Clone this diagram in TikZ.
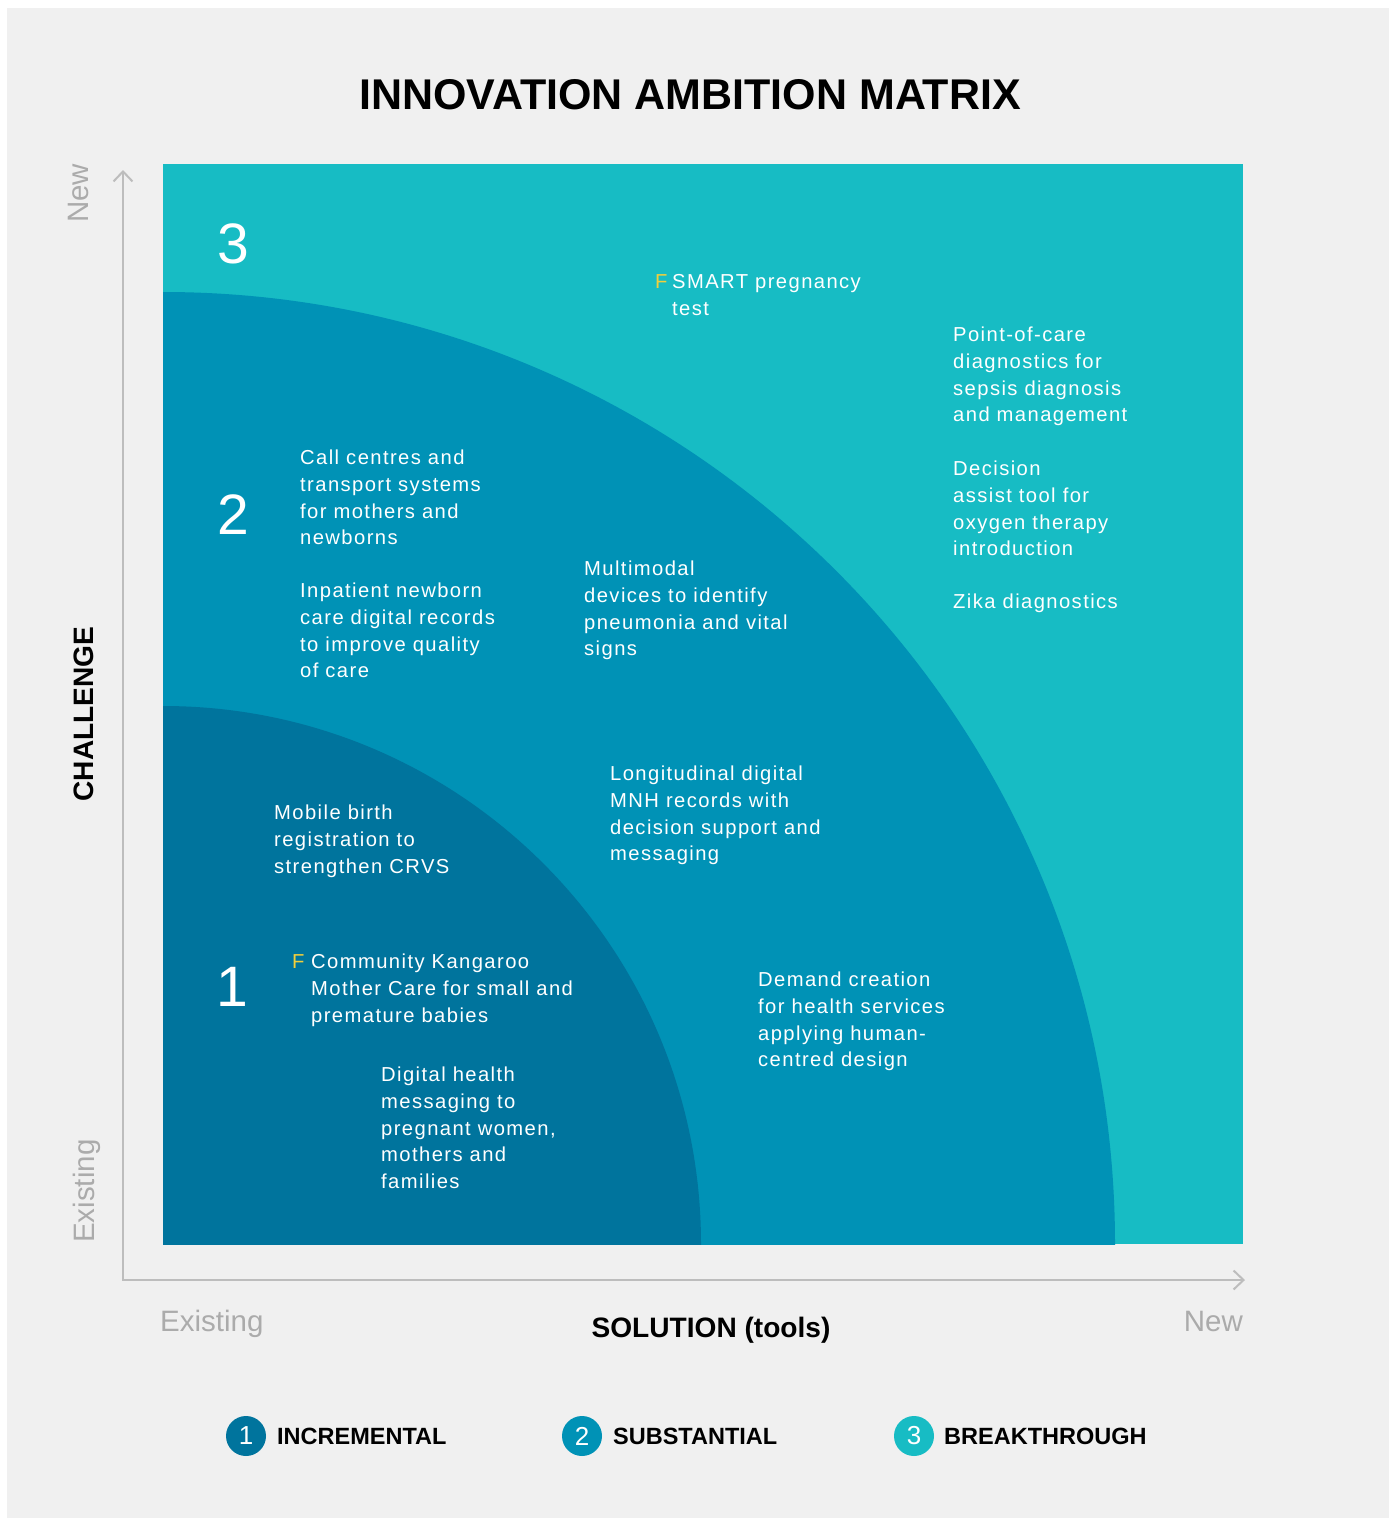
\documentclass[tikz,border=0pt]{standalone}
\usepackage{fontspec}
\usetikzlibrary{arrows.meta}
\setmainfont{Liberation Sans}
\newfontfamily\bodyfont[LetterSpace=7]{Liberation Sans}
\definecolor{bgpanel}{HTML}{F0F0F0}
\definecolor{cthree}{HTML}{17BCC4}
\definecolor{ctwo}{HTML}{0092B6}
\definecolor{cone}{HTML}{00749D}
\definecolor{axisgray}{HTML}{BDBDBD}
\definecolor{labgray}{HTML}{ABABAB}
\definecolor{fyellow}{HTML}{F2CF3B}
\begin{document}
\begin{tikzpicture}[x=1pt,y=-1pt,
  item/.style={anchor=north west, inner sep=0pt, align=left, text=white,
    font=\bodyfont\fontsize{20.2}{26.7}\selectfont},
  fmark/.style={anchor=north west, inner sep=0pt, text=fyellow,
    font=\bodyfont\fontsize{20.2}{26.7}\selectfont},
  bignum/.style={inner sep=0pt, text=white, font=\fontsize{57}{60}\selectfont},
  axisline/.style={draw=axisgray, line width=2pt, line join=miter},
  graylab/.style={inner sep=0pt, text=labgray, font=\fontsize{29.5}{32}\selectfont},
  boldlab/.style={inner sep=0pt, text=black, font=\bfseries\fontsize{28.1}{30}\selectfont},
  legcirc/.style={circle, minimum size=40pt, inner sep=0pt, text=white,
    font=\fontsize{26}{28}\selectfont},
  legtext/.style={anchor=west, inner sep=0pt, text=black,
    font=\bfseries\fontsize{23.5}{26}\selectfont}]
\useasboundingbox (0,0) rectangle (1389,1518);
\fill[white] (0,0) rectangle (1389,1518);
\fill[bgpanel] (7,8) rectangle (1389,1518);

% title
\node[inner sep=0pt, anchor=base, font=\bfseries\fontsize{43}{46}\selectfont] (title) at (690,109) {INNOVATION AMBITION MATRIX};

% matrix square with zones
\fill[cthree] (163,164) rectangle (1243,1244);
\begin{scope}
  \clip (163,164) rectangle (1243,1244);
  \fill[ctwo] (163,1244) circle[radius=952];
  \fill[cone] (163,1244) circle[radius=538];
\end{scope}

% axes
\coordinate (origin) at (123,1280);
\coordinate (ytip) at (123,170);
\coordinate (xtip) at (1245,1280);
\draw[axisline, {Straight Barb[length=10pt,width=19pt]}-{Straight Barb[length=10pt,width=19pt]}] (ytip) -- (origin) -- (xtip);

% axis labels
\node[graylab, rotate=90, anchor=base west] (ynew) at (88,223) {New};
\node[graylab, rotate=90, anchor=base west] (yexist) at (94,1243) {Existing};
\node[boldlab, rotate=90, anchor=base] (challenge) at (93,714) {CHALLENGE};
\node[graylab, anchor=base west] (xexist) at (160,1331) {Existing};
\node[graylab, anchor=base east] (xnew) at (1243,1331) {New};
\node[boldlab, anchor=base] (solution) at (711,1337) {SOLUTION (tools)};

% zone numbers
\node[bignum] (n3) at (233,244) {3};
\node[bignum] (n2) at (233,515) {2};
\node[bignum] (n1) at (232,987) {1};

% items
\node[fmark] (f1) at (655,274) {F};
\node[item] (smart) at (672,274) {SMART pregnancy\\test};
\node[item] (poc) at (953,327) {Point-of-care\\diagnostics for\\sepsis diagnosis\\and management};
\node[item] (decision) at (953,461) {Decision\\assist tool for\\oxygen therapy\\introduction};
\node[item] (zika) at (953,594) {Zika diagnostics};
\node[item] (call) at (300,450) {Call centres and\\transport systems\\for mothers and\\newborns};
\node[item] (inpatient) at (300,583) {Inpatient newborn\\care digital records\\to improve quality\\of care};
\node[item] (multi) at (584,561) {Multimodal\\devices to identify\\pneumonia and vital\\signs};
\node[item] (longi) at (610,766) {Longitudinal digital\\MNH records with\\decision support and\\messaging};
\node[item] (mobile) at (274,805) {Mobile birth\\registration to\\strengthen CRVS};
\node[fmark] (f2) at (292,954) {F};
\node[item] (kangaroo) at (311,954) {Community Kangaroo\\Mother Care for small and\\premature babies};
\node[item] (demand) at (758,972) {Demand creation\\for health services\\applying human-\\centred design};
\node[item] (digital) at (381,1067) {Digital health\\messaging to\\pregnant women,\\mothers and\\families};

% legend
\node[legcirc, fill=cone] (lc1) at (246,1436) {1};
\node[legtext] (lt1) at (277,1436) {INCREMENTAL};
\node[legcirc, fill=ctwo] (lc2) at (582,1436) {2};
\node[legtext] (lt2) at (613,1436) {SUBSTANTIAL};
\node[legcirc, fill=cthree] (lc3) at (914,1436) {3};
\node[legtext] (lt3) at (944,1436) {BREAKTHROUGH};
\end{tikzpicture}
\end{document}
